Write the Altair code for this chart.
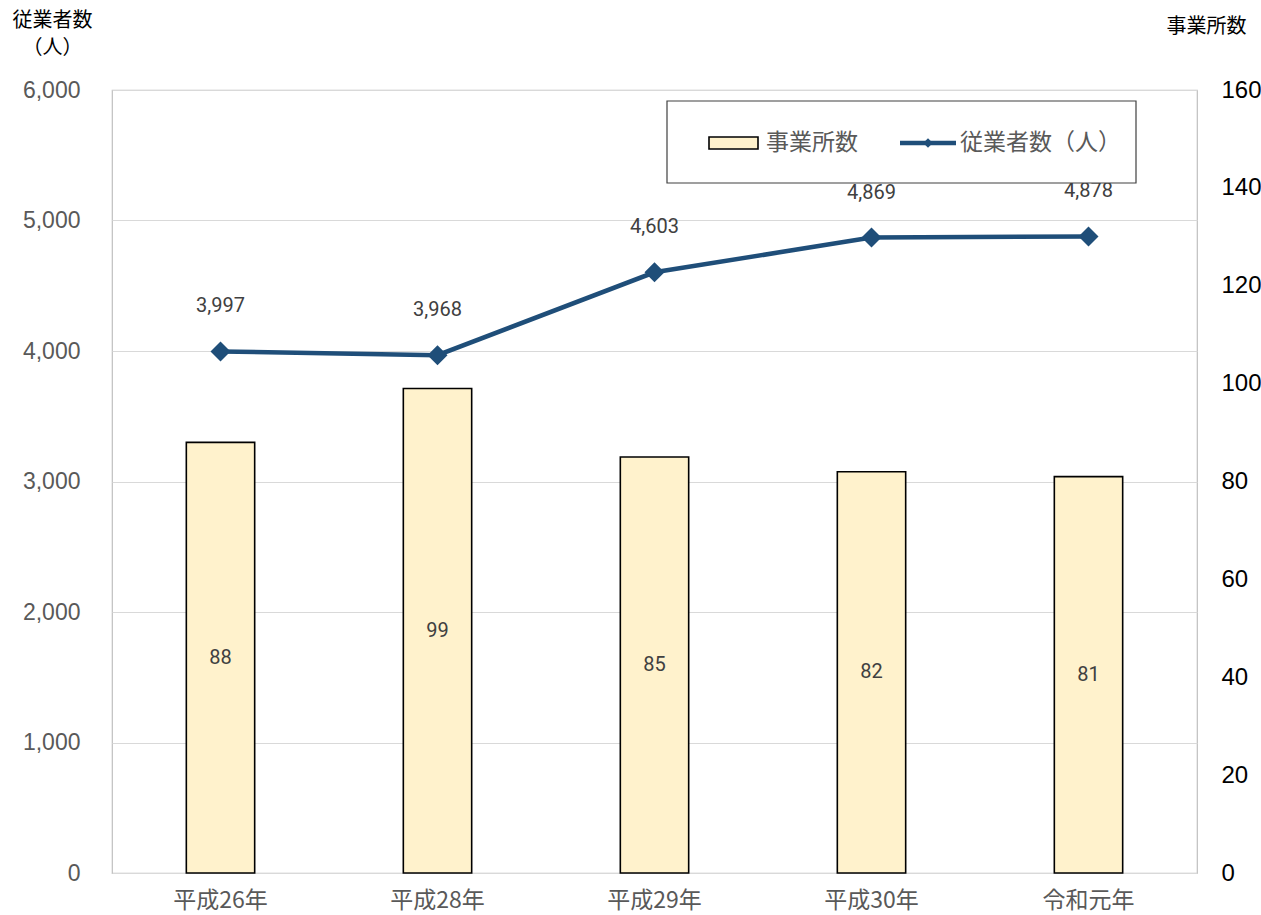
import altair as alt
import pandas as pd

years = ["平成26年", "平成28年", "平成29年", "平成30年", "令和元年"]
offices = [88, 99, 85, 82, 81]
workers = [3997, 3968, 4603, 4869, 4878]

df = pd.DataFrame({"year": years, "offices": offices, "workers": workers})

JP = "Noto Sans CJK JP"
NUM = "Liberation Sans"
NARROW = "'Liberation Sans Narrow', 'Liberation Sans', sans-serif"
GRAY = "#595959"
LINE = "#1f4e79"

xenc = alt.X(
    "year:N", sort=years, title=None,
    scale=alt.Scale(paddingInner=0.685, paddingOuter=0.3425),
    axis=alt.Axis(labelAngle=0, labelFont=JP, labelFontSize=23, labelColor=GRAY,
                  labelPadding=16, ticks=False, domain=False, grid=False),
)

right_axis = alt.Axis(orient="right", tickCount=8, labelExpr="format(datum.value, 'd')",
                      title="事業所数",
                      titleAngle=0, titleFont=JP, titleFontSize=20, titleFontWeight="normal",
                      titleColor="#000000", titleAlign="center", titleBaseline="top",
                      titleX=9, titleY=-74,
                      labelFont=NARROW, labelFontSize=24, labelColor="#000000",
                      labelPadding=24, ticks=False, domain=False, grid=False)
right_scale = alt.Scale(domain=[0, 160], nice=False)

left_axis = alt.Axis(orient="left", tickCount=6, labelExpr="format(datum.value, ',')",
                     title=["従業者数", "（人）"], titleAngle=0, titleFont=JP,
                     titleFontSize=20, titleFontWeight="normal", titleColor="#000000",
                     titleAlign="center", titleBaseline="top", titleLineHeight=27,
                     titleX=-60, titleY=-80,
                     labelFont=NUM, labelFontSize=23, labelColor=GRAY,
                     labelPadding=32, ticks=False, domain=False,
                     grid=True, gridColor="#d9d9d9", gridWidth=1.2)
left_scale = alt.Scale(domain=[0, 6000], nice=False)

base = alt.Chart(df)

bars = base.mark_bar(color="#fff2cc", stroke="#000000", strokeWidth=1.6).encode(
    x=xenc,
    y=alt.Y("offices:Q", scale=right_scale, axis=right_axis),
)

bar_text = base.transform_calculate(half="datum.offices / 2").mark_text(
    font="Roboto", fontSize=20, color="#404040", baseline="middle"
).encode(
    x=xenc,
    y=alt.Y("half:Q", scale=right_scale, axis=right_axis),
    text=alt.Text("offices:Q"),
)

bar_layer = alt.layer(bars, bar_text)

ybase = base.encode(x=xenc, y=alt.Y("workers:Q", scale=left_scale, axis=left_axis))

line = ybase.mark_line(color=LINE, strokeWidth=4.5)
points = ybase.mark_point(shape="diamond", filled=True, size=400, color=LINE, opacity=1)
line_text = ybase.mark_text(font="Roboto", fontSize=20, color="#404040", dy=-45,
                            baseline="middle").encode(
    text=alt.Text("workers:Q", format=","),
)

leg = alt.Chart(alt.Data(values=[{}]))
leg_box = leg.mark_rect(fill="white", stroke="#404040", strokeWidth=1.2).encode(
    x=alt.value(555), x2=alt.value(1024), y=alt.value(11), y2=alt.value(93))
leg_sw = leg.mark_rect(fill="#fff2cc", stroke="#000000", strokeWidth=1.6).encode(
    x=alt.value(597), x2=alt.value(646), y=alt.value(47), y2=alt.value(59))
leg_t1 = leg.mark_text(text="事業所数", font=JP, fontSize=23, color=GRAY, align="left",
                       baseline="middle").encode(x=alt.value(654), y=alt.value(53))
leg_line = leg.mark_rule(color=LINE, strokeWidth=4.5).encode(
    x=alt.value(788), x2=alt.value(844), y=alt.value(53))
leg_pt = leg.mark_point(shape="diamond", filled=True, size=90, color=LINE, opacity=1).encode(
    x=alt.value(816), y=alt.value(53))
leg_t2 = leg.mark_text(text="従業者数（人）", font=JP, fontSize=23, color=GRAY, align="left",
                       baseline="middle").encode(x=alt.value(848), y=alt.value(53))

line_layer = alt.layer(line, points, line_text, leg_box, leg_sw, leg_t1, leg_line, leg_pt, leg_t2)

chart = alt.layer(bar_layer, line_layer).resolve_scale(y="independent").properties(
    width=1085, height=783,
    autosize=alt.AutoSizeParams(type="none"),
    padding={"left": 112, "top": 90, "right": 64, "bottom": 42},
    background="white",
).configure_view(stroke="#bfbfbf", strokeWidth=1.2)

chart.save("out.html", embed_options={"renderer": "svg", "actions": False})
